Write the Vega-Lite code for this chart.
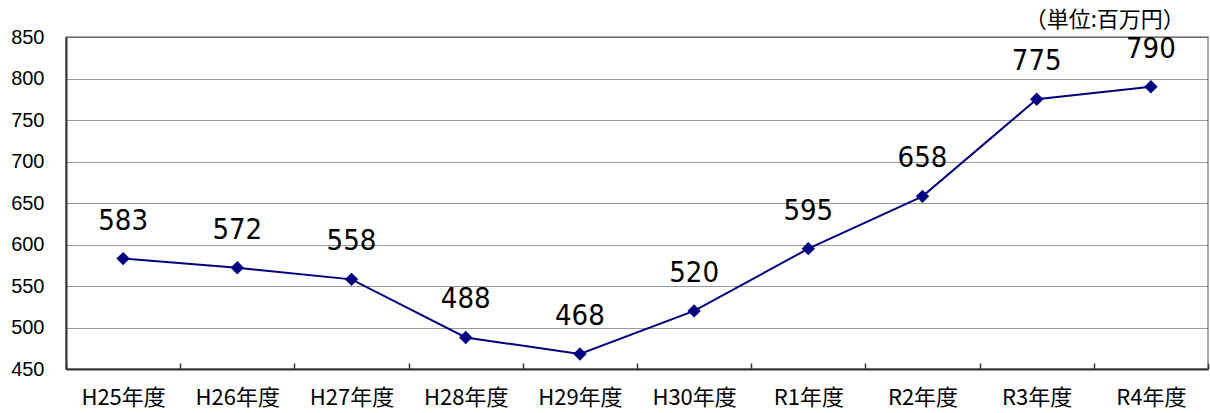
{
  "$schema": "https://vega.github.io/schema/vega-lite/v6.json",
  "width": 1142,
  "height": 332,
  "autosize": {"type": "none"},
  "padding": {"left": 66, "top": 37, "right": 2, "bottom": 44},
  "background": "white",
  "config": {"view": {"stroke": "#8c8c8c", "strokeWidth": 1.5}},
  "title": {"text": "（単位:百万円）", "anchor": "end", "orient": "top", "font": "Noto Sans CJK JP", "fontSize": 22, "fontWeight": "normal", "color": "#000", "dx": -24, "offset": -5},
  "data": {"values": [
    {"year": "H25年度", "value": 583},
    {"year": "H26年度", "value": 572},
    {"year": "H27年度", "value": 558},
    {"year": "H28年度", "value": 488},
    {"year": "H29年度", "value": 468},
    {"year": "H30年度", "value": 520},
    {"year": "R1年度", "value": 595},
    {"year": "R2年度", "value": 658},
    {"year": "R3年度", "value": 775},
    {"year": "R4年度", "value": 790}
  ]},
  "encoding": {
    "x": {"field": "year", "type": "nominal", "sort": null,
      "scale": {"type": "band", "paddingInner": 0, "paddingOuter": 0},
      "axis": {"title": null, "labelAngle": 0, "labelFont": "Noto Sans CJK JP", "labelFontSize": 22, "labelColor": "#000", "labelPadding": 24,
        "tickBand": "extent", "tickSize": -6, "tickColor": "#333", "tickWidth": 1.5, "domainColor": "#333", "domainWidth": 2, "grid": false}},
    "y": {"field": "value", "type": "quantitative",
      "scale": {"domain": [450, 850], "nice": false, "zero": false},
      "axis": {"title": null, "values": [450, 500, 550, 600, 650, 700, 750, 800, 850], "labelFont": "Liberation Sans", "labelFontSize": 20, "labelColor": "#000", "labelPadding": 22, "ticks": false,
        "domainColor": "#333", "domainWidth": 2, "grid": true, "gridColor": "#333", "gridDash": [1, 1], "gridWidth": 1}}
  },
  "layer": [
    {"mark": {"type": "line", "color": "#000080", "strokeWidth": 2}},
    {"mark": {"type": "point", "shape": "diamond", "filled": true, "color": "#000080", "size": 180, "opacity": 1}},
    {"mark": {"type": "text", "font": "DejaVu Sans Condensed", "fontSize": 29, "color": "#000", "dy": -38, "baseline": "middle"},
     "encoding": {"text": {"field": "value", "type": "quantitative"}}}
  ]
}
